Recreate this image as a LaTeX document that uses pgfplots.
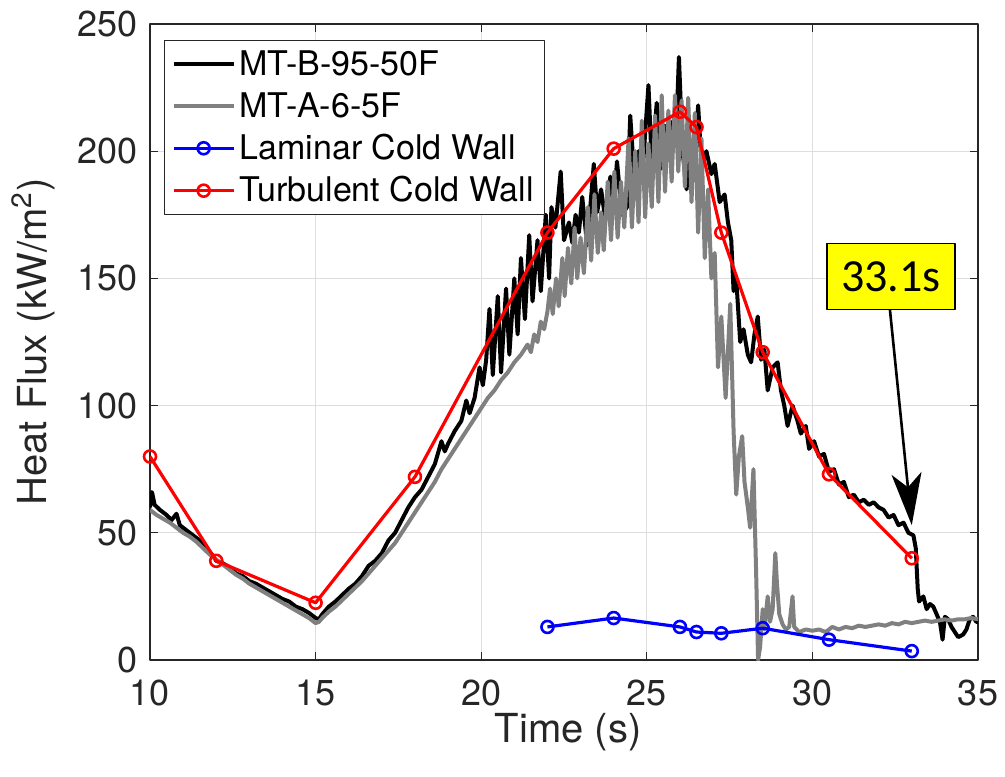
\documentclass[border=0pt]{standalone}
\usepackage{pgfplots}
\pgfplotsset{compat=1.18}
\usepackage{fontspec}
\setmainfont{TeX Gyre Heros}
\newfontfamily\annotfont{Carlito}
\usetikzlibrary{arrows.meta}
\definecolor{mgray}{rgb}{0.5,0.5,0.5}
\definecolor{axcol}{rgb}{0.15,0.15,0.15}
\definecolor{gridcol}{rgb}{0.87,0.87,0.87}
\definecolor{myellow}{rgb}{1,1,0}

\begin{document}
\begin{tikzpicture}
\path[use as bounding box] (-75pt,-58pt) rectangle (427.5pt,330pt);
\begin{axis}[
  scale only axis, width=414pt, height=318pt,
  xmin=10, xmax=35, ymin=0, ymax=250,
  xtick={10,15,...,35}, ytick={0,50,...,250},
  tick align=inside, major tick length=4pt,
  grid=major, major grid style={gridcol, line width=0.5pt},
  axis line style={axcol, line width=0.6pt},
  every tick/.style={axcol, line width=0.6pt},
  tick label style={font=\fontsize{18}{20}\selectfont, text=axcol, inner ysep=0pt},
  yticklabel style={inner xsep=6pt},
  xticklabel style={yshift=-10pt},
  /pgf/number format/assume math mode=true,
  xlabel={Time (s)},
  ylabel={Heat Flux (kW/m\textsuperscript{2})},
  label style={font=\fontsize{20}{22}\selectfont, text=axcol, inner sep=0pt},
  xlabel style={at={(axis description cs:0.505,-0.113)}, anchor=center},
  ylabel style={at={(axis description cs:-0.141,0.5)}, anchor=center},
  legend style={at={(axis description cs:0.017,0.975)}, anchor=north west,
    draw=axcol, line width=0.6pt, fill=white,
    font=\fontsize{17}{19}\selectfont, inner xsep=3.5pt, inner ysep=3pt, row sep=3pt},
  legend cell align=left,
  legend image code/.code={\draw[mark repeat=2,mark phase=2] plot coordinates {(0pt,0pt) (15pt,0pt) (30pt,0pt)};},
  line join=round,
]
\addplot[black, line width=2pt, mark=none] coordinates {
(10.00,60) (10.06,66) (10.14,61) (10.30,59) (10.50,57) (10.65,55) (10.80,57.5) (10.90,53)
(11.10,51) (11.30,49) (11.50,47) (11.70,44) (11.90,41) (12.00,39) (12.20,38) (12.40,36.5)
(12.60,34) (12.80,33) (13.00,31) (13.20,30) (13.40,28.5) (13.60,27) (13.80,25.5) (14.00,24)
(14.20,23) (14.40,21) (14.60,20) (14.80,18.5) (15.00,16.5) (15.10,16) (15.20,18) (15.40,21)
(15.60,23) (15.80,25.5) (16.00,28) (16.20,30) (16.40,33) (16.60,37) (16.80,39) (17.00,42)
(17.20,47) (17.40,50) (17.60,55) (17.80,60) (18.00,64) (18.20,67) (18.40,72) (18.60,77)
(18.80,86) (18.90,82) (19.00,85) (19.20,90) (19.40,94) (19.55,102) (19.65,97) (19.80,103)
(19.95,115) (20.05,108) (20.15,118) (20.25,138) (20.35,112) (20.50,143) (20.60,113) (20.75,146)
(20.85,120) (21.00,150) (21.10,128) (21.20,158) (21.32,134) (21.45,167) (21.55,141) (21.70,165)
(21.80,145) (21.95,175) (22.05,150) (22.12,178) (22.24,170) (22.40,192) (22.50,165) (22.65,172)
(22.75,164) (22.85,175) (22.95,168) (23.05,182) (23.20,163) (23.40,195) (23.50,176) (23.62,185)
(23.75,173) (23.90,190) (24.00,178) (24.10,196) (24.25,175) (24.40,178) (24.50,214) (24.62,190)
(24.75,200) (24.85,188) (25.05,226) (25.15,195) (25.30,219) (25.42,193) (25.55,210) (25.65,200)
(25.80,212) (25.88,205) (25.97,237) (26.08,200) (26.20,185) (26.30,200) (26.40,190) (26.55,218)
(26.65,195) (26.80,200) (26.95,191) (27.05,195) (27.20,180) (27.35,183) (27.45,172) (27.55,165)
(27.62,145) (27.70,150) (27.82,125) (27.92,130) (28.05,120) (28.15,117) (28.25,128) (28.35,135)
(28.45,118) (28.55,122) (28.65,106) (28.80,115) (28.95,117) (29.05,106) (29.15,100) (29.25,92)
(29.40,100) (29.55,94) (29.65,89) (29.80,92) (29.90,83) (30.05,86) (30.20,80) (30.35,81)
(30.50,74) (30.65,75) (30.80,69) (30.95,70) (31.10,64) (31.25,65) (31.40,62) (31.55,63)
(31.70,61) (31.85,62) (32.00,60) (32.15,59) (32.30,56) (32.45,57) (32.60,53) (32.75,54)
(32.90,50) (33.05,49) (33.12,44) (33.18,28) (33.22,23) (33.35,25) (33.45,20) (33.55,22)
(33.65,21) (33.75,18) (33.85,15) (33.93,8) (34.00,17) (34.10,16) (34.20,13) (34.30,11)
(34.40,9) (34.55,10) (34.65,12) (34.75,16) (34.85,17) (34.95,15) (35.00,15)
};
\addlegendentry{MT-B-95-50F}
\addplot[mgray, line width=2pt, mark=none] coordinates {
(10.00,59) (10.20,57) (10.40,55.5) (10.60,54) (10.80,52) (11.00,50) (11.20,48.5) (11.40,46.5)
(11.60,44) (11.80,41.5) (12.00,39.5) (12.20,37.5) (12.40,35.5) (12.60,33.5) (12.80,32) (13.00,30)
(13.20,28.5) (13.40,27) (13.60,25.5) (13.80,24) (14.00,22.5) (14.20,21) (14.40,19.5) (14.60,18)
(14.80,16.5) (15.00,14.5) (15.10,15) (15.20,16.5) (15.40,19) (15.60,21) (15.80,23.5) (16.00,26)
(16.20,28.5) (16.40,31) (16.60,34) (16.80,37) (17.00,40) (17.20,43) (17.40,46) (17.60,50)
(17.80,54) (18.00,58) (18.20,62) (18.40,66) (18.60,70) (18.80,75) (19.00,79) (19.20,83)
(19.40,87) (19.60,91) (19.80,95) (20.00,99) (20.20,103) (20.40,106) (20.60,110) (20.80,113)
(21.00,117) (21.20,120) (21.40,124) (21.50,121) (21.60,128) (21.70,125) (21.80,133) (21.90,130)
(22.00,137) (22.08,146) (22.16,136) (22.26,150) (22.34,139) (22.45,158) (22.52,143) (22.62,162)
(22.72,148) (22.82,170) (22.90,150) (23.00,166) (23.10,152) (23.22,178) (23.32,157) (23.42,183)
(23.52,160) (23.62,176) (23.70,161) (23.82,188) (23.92,165) (24.02,192) (24.12,166) (24.22,188)
(24.32,170) (24.45,205) (24.55,170) (24.65,200) (24.75,172) (24.85,212) (24.95,174) (25.05,203)
(25.15,178) (25.25,214) (25.35,180) (25.45,222) (25.55,184) (25.65,216) (25.75,188) (25.85,222)
(25.95,192) (26.05,220) (26.15,186) (26.25,221) (26.35,180) (26.45,215) (26.55,168) (26.65,205)
(26.75,158) (26.85,185) (26.95,150) (27.05,160) (27.15,115) (27.25,135) (27.38,103) (27.52,140)
(27.62,90) (27.70,65) (27.78,80) (27.88,88) (27.95,70) (28.05,60) (28.12,52) (28.22,75)
(28.30,35) (28.36,0) (28.42,5) (28.50,20) (28.55,12) (28.65,25) (28.72,15) (28.80,20)
(28.88,42) (28.93,30) (29.00,18) (29.10,14) (29.20,12) (29.30,13) (29.40,25) (29.45,13)
(29.60,11) (29.80,12) (30.00,11.5) (30.20,12) (30.40,11) (30.60,13) (30.80,12) (31.00,13)
(31.20,12.5) (31.40,13.5) (31.60,13) (31.80,13.5) (32.00,14) (32.20,13.5) (32.40,14.5) (32.60,14)
(32.80,15) (33.00,14.5) (33.20,15) (33.40,15.5) (33.60,15) (33.80,15.5) (34.00,16) (34.20,15.5)
(34.40,16) (34.60,16) (34.80,16.5) (35.00,16)
};
\addlegendentry{MT-A-6-5F}
\addplot[blue, line width=1.6pt, mark=o, mark size=3pt, mark options={line width=1.3pt}] coordinates {
(22,13) (24,16.5) (26,13) (26.5,11) (27.25,10.5) (28.5,12.5) (30.5,8) (33,3.5)
};
\addlegendentry{Laminar Cold Wall}
\addplot[red, line width=1.6pt, mark=o, mark size=3pt, mark options={line width=1.3pt}] coordinates {
(10,80) (12,39) (15,22.5) (18,72) (22,168) (24,201) (26,215.5) (26.5,209.5) (27.25,168) (28.5,121) (30.5,73) (33,40)
};
\addlegendentry{Turbulent Cold Wall}
\draw[black, line width=1.3pt, -{Stealth[length=26pt,width=15pt,inset=7pt]}] (axis cs:32.34,137.8) -- (axis cs:33.0,53);
\node[fill=myellow, draw=black, line width=0.8pt, minimum width=64pt, minimum height=33pt, inner sep=0pt,
  font=\annotfont\fontsize{23}{25}\selectfont] at (axis cs:32.37,150.7) {33.1s};
\end{axis}
\end{tikzpicture}
\end{document}
